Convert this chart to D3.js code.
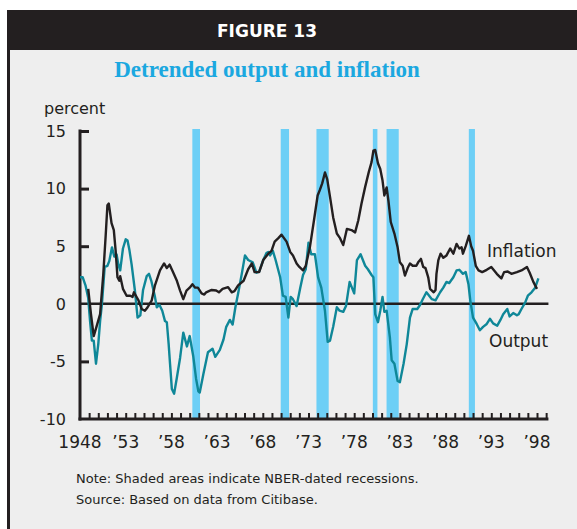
<!DOCTYPE html>
<html>
<head>
<meta charset="utf-8">
<script src="https://cdnjs.cloudflare.com/ajax/libs/d3/7.8.5/d3.min.js"></script>
<style>
  body { margin: 0; background: #ffffff; }
  svg { display: block; }
  .tickText { font-family: "DejaVu Sans", sans-serif; font-size: 16px; fill: #231f20; }
  .yearText { font-family: "DejaVu Sans", sans-serif; font-size: 17px; fill: #231f20; }
  .seriesText { font-family: "DejaVu Sans", sans-serif; font-size: 17px; fill: #231f20; }
  .noteText { font-family: "DejaVu Sans", sans-serif; font-size: 13px; fill: #231f20; }
</style>
</head>
<body>
<div class="chart"></div>
<script>

// Chart data (decimal years)
var outputYears = [
  1948.0, 1948.3, 1948.6, 1948.9, 1949.1, 1949.3, 1949.5, 1949.75, 1950.0, 1950.2,
  1950.4, 1950.7, 1951.0, 1951.2, 1951.5, 1951.75, 1952.0, 1952.2, 1952.4, 1952.7,
  1953.0, 1953.2, 1953.4, 1953.65, 1954.0, 1954.3, 1954.6, 1954.9, 1955.3, 1955.55,
  1955.8, 1956.2, 1956.4, 1956.7, 1957.0, 1957.3, 1957.5, 1957.7, 1957.85, 1958.05,
  1958.3, 1958.6, 1958.95, 1959.3, 1959.7, 1960.0, 1960.4, 1960.7, 1960.95, 1961.1,
  1961.5, 1962.0, 1962.5, 1962.8, 1963.3, 1963.7, 1964.0, 1964.4, 1964.7, 1965.0,
  1965.3, 1965.7, 1966.05, 1966.4, 1966.9, 1967.3, 1967.6, 1968.05, 1968.4, 1968.6,
  1968.8, 1969.1, 1969.4, 1969.9, 1970.2, 1970.5, 1970.8, 1971.05, 1971.3, 1971.7,
  1972.1, 1972.4, 1972.7, 1973.0, 1973.3, 1973.7, 1974.05, 1974.4, 1974.8, 1975.1,
  1975.35, 1975.7, 1976.1, 1976.4, 1976.8, 1977.1, 1977.5, 1977.75, 1978.0, 1978.3,
  1978.7, 1979.2, 1979.5, 1979.9, 1980.1, 1980.3, 1980.6, 1980.85, 1981.1, 1981.3,
  1981.55, 1981.9, 1982.1, 1982.4, 1982.75, 1983.0, 1983.4, 1983.75, 1984.1, 1984.4,
  1984.9, 1985.2, 1985.5, 1985.9, 1986.5, 1986.9, 1987.4, 1987.75, 1988.1, 1988.4,
  1988.85, 1989.2, 1989.5, 1989.9, 1990.2, 1990.5, 1990.7, 1991.0, 1991.4, 1991.75,
  1992.1, 1992.5, 1992.85, 1993.2, 1993.65, 1994.0, 1994.3, 1994.75, 1995.0, 1995.4,
  1995.8, 1996.0, 1996.3, 1996.7, 1997.0, 1997.4, 1997.8, 1998.15
];
var outputValues = [
  2.3, 2.3, 1.6, 0.5, -1.5, -3.2, -3.2, -5.2, -3.5, -1.5,
  0.0, 3.2, 3.3, 3.7, 4.9, 4.1, 4.3, 3.4, 2.9, 4.8,
  5.6, 5.5, 4.7, 3.4, 1.2, -1.2, -1.0, 1.2, 2.4, 2.6,
  2.0, 0.6, -0.3, -0.1, -0.6, -1.5, -1.6, -3.5, -5.2, -7.4,
  -7.8, -6.4, -4.7, -2.5, -3.7, -2.8, -4.6, -6.5, -7.6, -7.7,
  -6.1, -4.2, -3.9, -4.6, -4.0, -3.1, -2.0, -1.4, -1.8, -0.3,
  0.9, 2.6, 4.2, 3.8, 3.6, 2.7, 2.8, 3.8, 4.4, 4.5,
  4.2, 4.6, 3.8, 2.3, 0.7, 0.6, -1.2, 0.6, 0.4, -0.2,
  1.4, 2.5, 3.0, 5.3, 4.3, 4.3, 2.3, 1.4, -0.6, -3.3,
  -3.2, -2.0, -0.3, -0.6, -0.7, -0.2, 1.9, 1.4, 0.9, 3.8,
  4.3, 3.3, 3.0, 2.5, 2.3, -0.9, -1.6, -0.6, 0.6, -0.7,
  -0.6, -2.9, -4.9, -5.2, -6.7, -6.8, -5.2, -3.5, -1.2, -0.45,
  -0.45, -0.1, 0.4, 1.0, 0.4, 0.3, 1.0, 1.4, 1.9, 1.8,
  2.3, 2.9, 2.95, 2.6, 2.75, 1.7, 0.3, -1.2, -1.75, -2.3,
  -2.0, -1.75, -1.3, -1.7, -1.9, -1.4, -0.9, -0.45, -1.1, -0.8,
  -1.0, -0.9, -0.45, 0.1, 0.7, 1.0, 1.4, 2.2
];

var inflationYears = [
  1948.9, 1949.2, 1949.5, 1949.8, 1950.2, 1950.55, 1950.8, 1951.0, 1951.15, 1951.45,
  1951.7, 1951.9, 1952.1, 1952.3, 1952.4, 1952.7, 1953.1, 1953.5, 1953.75, 1953.9,
  1954.4, 1954.75, 1955.1, 1955.4, 1955.85, 1956.2, 1956.75, 1957.2, 1957.5, 1957.8,
  1958.1, 1958.6, 1958.95, 1959.3, 1959.65, 1960.0, 1960.3, 1960.6, 1960.9, 1961.3,
  1961.6, 1961.8, 1962.4, 1962.9, 1963.2, 1963.6, 1964.2, 1964.6, 1964.9, 1965.3,
  1965.9, 1966.4, 1966.8, 1967.1, 1967.6, 1968.05, 1968.6, 1968.95, 1969.3, 1969.7,
  1970.05, 1970.6, 1971.0, 1971.3, 1971.7, 1972.0, 1972.4, 1972.7, 1973.15, 1973.6,
  1974.0, 1974.25, 1974.5, 1974.8, 1975.05, 1975.35, 1975.7, 1976.1, 1976.45, 1976.8,
  1977.2, 1977.7, 1978.1, 1978.45, 1978.8, 1979.2, 1979.6, 1979.9, 1980.1, 1980.3,
  1980.6, 1980.85, 1981.1, 1981.3, 1981.55, 1981.75, 1982.0, 1982.4, 1982.75, 1983.0,
  1983.3, 1983.55, 1983.85, 1984.1, 1984.4, 1984.8, 1985.0, 1985.3, 1985.55, 1985.8,
  1986.1, 1986.3, 1986.7, 1986.9, 1987.0, 1987.2, 1987.45, 1987.75, 1988.1, 1988.5,
  1988.85, 1989.2, 1989.5, 1989.75, 1989.9, 1990.2, 1990.55, 1990.8, 1991.0, 1991.3,
  1991.6, 1992.0, 1992.5, 1993.0, 1993.6, 1994.1, 1994.4, 1994.8, 1995.2, 1995.8,
  1996.3, 1996.9, 1997.2, 1997.6, 1998.0
];
var inflationValues = [
  1.3, -0.9, -2.8, -2.0, -0.9, 2.6, 5.8, 8.55, 8.7, 7.0,
  6.4, 4.6, 2.3, 2.0, 2.4, 1.3, 0.7, 0.7, 0.6, 1.0,
  0.3, -0.45, -0.6, -0.3, 0.3, 1.6, 2.9, 3.5, 3.1, 3.4,
  2.9, 2.0, 1.15, 0.4, 1.15, 1.4, 1.7, 1.4, 1.4, 0.9,
  0.8, 1.0, 1.2, 1.15, 1.0, 1.3, 1.45, 1.0, 1.1, 1.6,
  2.0, 3.0, 3.5, 2.75, 2.75, 3.8, 4.35, 4.6, 5.4, 5.7,
  6.0, 5.4, 4.5, 4.2, 3.5, 3.2, 2.9, 3.3, 4.9, 7.25,
  9.4, 9.9, 10.45, 11.4, 10.8, 9.3, 7.5, 6.1, 5.7, 5.1,
  6.5, 6.4, 6.2, 7.25, 8.7, 10.15, 11.45, 12.3, 13.3, 13.35,
  12.2, 11.7, 10.7, 9.4, 10.1, 8.9, 7.1, 6.1, 4.9, 3.6,
  3.3, 2.45, 3.1, 3.5, 3.3, 3.3, 3.6, 3.9, 3.2, 3.1,
  2.3, 1.3, 1.0, 1.2, 2.6, 3.76, 4.35, 4.0, 4.2, 4.8,
  4.35, 5.2, 4.8, 4.9, 4.35, 5.0, 5.9, 5.0, 4.6, 3.3,
  2.9, 2.75, 2.95, 3.2, 2.6, 2.2, 2.75, 2.8, 2.6, 2.75,
  2.9, 3.2, 2.7, 1.9, 1.3
];

// NBER-dated recessions shown as shaded bands
var recessionStarts = [1960.29, 1969.96, 1973.87, 1980.04, 1981.54, 1990.54];
var recessionEnds = [1961.13, 1970.87, 1975.21, 1980.54, 1982.87, 1991.21];

// Axis ticks and labels
var yTicks = [15, 10, 5, 0, -5, -10];
var labelYears = [1948, 1953, 1958, 1963, 1968, 1973, 1978, 1983, 1988, 1993, 1998];

// Dimensions and colors
var w = 577;
var h = 529;
var ink = "#231f20";
var teal = "#0f8798";
var bandColor = "#6dcff6";

var svg = d3.select(".chart")
  .append("svg")
  .attr("width", w)
  .attr("height", h);

// Panel background with dark left border and header strip
svg.append("rect")
  .attr("x", 7)
  .attr("y", 10)
  .attr("width", w - 7)
  .attr("height", h - 10)
  .style("fill", "#eeeeee");

svg.append("rect")
  .attr("x", 7)
  .attr("y", 10)
  .attr("width", 3)
  .attr("height", h - 10)
  .style("fill", ink);

svg.append("rect")
  .attr("x", 7)
  .attr("y", 10)
  .attr("width", w - 7)
  .attr("height", 40)
  .style("fill", ink);

svg.append("text")
  .attr("x", 267)
  .attr("y", 37)
  .attr("text-anchor", "middle")
  .style("font-family", "'DejaVu Sans', sans-serif")
  .style("font-weight", "bold")
  .style("font-size", "17px")
  .style("fill", "#ffffff")
  .text("FIGURE 13");

svg.append("text")
  .attr("x", 267)
  .attr("y", 77)
  .attr("text-anchor", "middle")
  .style("font-family", "'Liberation Serif', 'Times New Roman', serif")
  .style("font-weight", "bold")
  .style("font-size", "23px")
  .style("fill", "#1ba8e0")
  .text("Detrended output and inflation");

// Scales
var x = d3.scaleLinear()
  .domain([1948, 1998])
  .range([80, 537]);

var y = d3.scaleLinear()
  .domain([-10, 15])
  .range([419, 131]);

var xEnd = x(1999.25);

// Recession bands
svg.selectAll(".recession")
  .data(recessionStarts)
  .enter()
  .append("rect")
  .attr("class", "recession")
  .attr("x", function(d) { return x(d); })
  .attr("y", y(15) - 2)
  .attr("width", function(d, i) { return x(recessionEnds[i]) - x(d); })
  .attr("height", y(-10) - y(15) + 2)
  .style("fill", bandColor);

// Zero line
svg.append("line")
  .attr("x1", x(1948))
  .attr("x2", xEnd)
  .attr("y1", y(0))
  .attr("y2", y(0))
  .style("stroke", ink)
  .style("stroke-width", 2.5);

// Left axis with inward ticks
var yAxis = d3.axisRight(y)
  .tickValues(yTicks.filter(function(d) { return d !== 0 && d !== -10; }))
  .tickSize(9)
  .tickFormat("");

svg.append("g")
  .attr("transform", "translate(" + x(1948) + ",0)")
  .call(yAxis)
  .call(function(g) {
      g.select(".domain").remove();
      g.selectAll(".tick line").style("stroke", ink).style("stroke-width", 3);
  });

svg.append("line")
  .attr("x1", x(1948))
  .attr("x2", x(1948))
  .attr("y1", y(15) - 1.5)
  .attr("y2", y(-10) + 1.5)
  .style("stroke", ink)
  .style("stroke-width", 3);

svg.selectAll(".yLabel")
  .data(yTicks)
  .enter()
  .append("text")
  .attr("class", "tickText")
  .attr("x", 66)
  .attr("y", function(d) { return y(d); })
  .attr("dy", "0.36em")
  .attr("text-anchor", "end")
  .text(function(d) { return d; });

svg.append("text")
  .attr("class", "tickText")
  .attr("x", 44)
  .attr("y", 114)
  .text("percent");

// Bottom axis with yearly ticks pointing up
var xAxis = d3.axisTop(x)
  .tickValues(d3.range(1949, 2000))
  .tickSize(6)
  .tickFormat("");

svg.append("g")
  .attr("transform", "translate(0," + y(-10) + ")")
  .call(xAxis)
  .call(function(g) {
      g.select(".domain").remove();
      g.selectAll(".tick line").style("stroke", ink).style("stroke-width", 2);
  });

svg.append("line")
  .attr("x1", x(1948) - 1.5)
  .attr("x2", xEnd)
  .attr("y1", y(-10))
  .attr("y2", y(-10))
  .style("stroke", ink)
  .style("stroke-width", 3);

svg.selectAll(".xLabel")
  .data(labelYears)
  .enter()
  .append("text")
  .attr("class", "yearText")
  .attr("x", function(d) { return x(d); })
  .attr("y", 448)
  .attr("text-anchor", "middle")
  .text(function(d) { return d === 1948 ? "1948" : "\u2019" + String(d).slice(2); });

// Series lines
var line = d3.line()
  .x(function(d) { return x(d[0]); })
  .y(function(d) { return y(d[1]); });

svg.append("path")
  .datum(d3.zip(outputYears, outputValues))
  .attr("d", line)
  .style("fill", "none")
  .style("stroke", teal)
  .style("stroke-width", 2.4)
  .style("stroke-linejoin", "round");

svg.append("path")
  .datum(d3.zip(inflationYears, inflationValues))
  .attr("d", line)
  .style("fill", "none")
  .style("stroke", ink)
  .style("stroke-width", 2.4)
  .style("stroke-linejoin", "round");

// Series labels
svg.append("text")
  .attr("class", "seriesText")
  .attr("x", 487)
  .attr("y", 257)
  .text("Inflation");

svg.append("text")
  .attr("class", "seriesText")
  .attr("x", 489)
  .attr("y", 347)
  .text("Output");

// Notes
svg.append("text")
  .attr("class", "noteText")
  .attr("x", 76)
  .attr("y", 483)
  .text("Note: Shaded areas indicate NBER-dated recessions.");

svg.append("text")
  .attr("class", "noteText")
  .attr("x", 76)
  .attr("y", 504)
  .text("Source: Based on data from Citibase.");

</script>
</body>
</html>
